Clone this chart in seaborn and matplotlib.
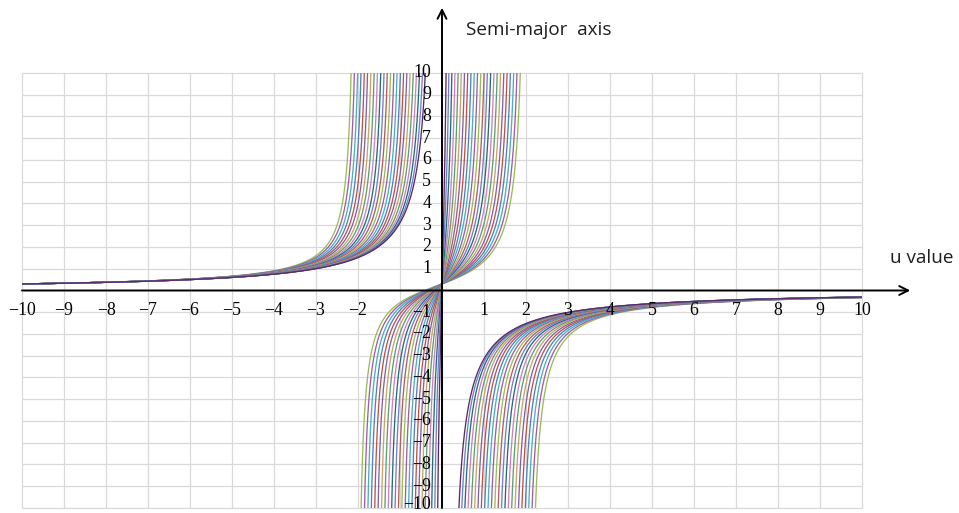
import numpy as np
import pandas as pd
import matplotlib
matplotlib.use("Agg")
import matplotlib.pyplot as plt
import seaborn as sns
from matplotlib.patches import Rectangle

# Half-width of the singular interval of each curve: poles at u = -r and u = +r
pole_offsets = [0.20, 0.28, 0.36, 0.44, 0.52, 0.60, 0.68, 0.76,
                0.84, 0.92, 1.00, 1.08, 1.16, 1.24, 1.32, 1.40,
                1.48, 1.56, 1.64, 1.72, 1.80, 1.88, 1.96, 2.04]
tail_scale = 3.0        # a ~ -tail_scale / u far from the poles
axis_crossing = 0.3     # common value of every curve at u = 0

x_tick_values = [-10, -9, -8, -7, -6, -5, -4, -3, -2, 1, 2, 3, 4, 5, 6, 7, 8, 9, 10]
y_tick_values = [-10, -9, -8, -7, -6, -5, -4, -3, -2, -1, 1, 2, 3, 4, 5, 6, 7, 8, 9, 10]

curve_colors = ["#9BBB59", "#A05FA0", "#4BACC6", "#4F81BD", "#C0504D", "#8064A2",
                "#C9A26B", "#5F9E6E", "#D27FBF", "#276A7C", "#6F7FD0", "#B65D5A"]


def semi_major_axis(u, r):
    b = axis_crossing * r * r / tail_scale
    return tail_scale * (u + b) / (r * r - u * u)


rows = []
for i, r in enumerate(pole_offsets):
    branches = [np.linspace(-10.0, -r - 1e-4, 5000),
                np.linspace(-r + 1e-4, r - 1e-4, 5000),
                np.linspace(r + 1e-4, 10.0, 5000)]
    for j, u in enumerate(branches):
        a = semi_major_axis(u, r)
        keep = np.abs(a) <= 60
        rows.append(pd.DataFrame({"u": u[keep], "a": a[keep],
                                  "curve": i, "branch": j}))
df = pd.concat(rows, ignore_index=True)

# outermost curves drawn first, the darkest curve last (on top)
order = list(range(len(pole_offsets)))[::-1]
palette = {}
for k, c in enumerate(order):
    palette[c] = curve_colors[k % len(curve_colors)]
palette[order[-1]] = "#5B2A63"
df["curve"] = pd.Categorical(df["curve"], categories=order, ordered=True)

sns.set_theme(style="white")
plt.rcParams["font.family"] = ["Liberation Serif", "DejaVu Sans"]

fig = plt.figure(figsize=(9.59, 5.13), dpi=100)
ax = fig.add_axes([0, 0, 1, 1])
ax.set_xlim(-10.524, 12.31)
ax.set_ylim(-10.23, 13.356)
ax.axis("off")

# grid
ax.vlines(range(-10, 11), -10, 10, color="#D9D9D9", lw=0.9, zorder=0)
ax.hlines(range(-10, 11), -10, 10, color="#D9D9D9", lw=0.9, zorder=0)

sns.lineplot(data=df, x="u", y="a", hue="curve", units="branch",
             estimator=None, sort=False, palette=palette, hue_order=order,
             linewidth=0.95, legend=False, ax=ax)

clip = Rectangle((-10, -10), 20, 20, transform=ax.transData)
for line in ax.lines:
    line.set_clip_path(clip)

# axes with arrows
ax.annotate("", xy=(11.15, 0), xytext=(-10, 0),
            arrowprops=dict(arrowstyle="->", lw=1.4, color="black",
                            mutation_scale=16, shrinkA=0, shrinkB=0), zorder=5)
ax.annotate("", xy=(0, 13.0), xytext=(0, -10),
            arrowprops=dict(arrowstyle="->", lw=1.4, color="black",
                            mutation_scale=16, shrinkA=0, shrinkB=0), zorder=5)

for v in x_tick_values:
    lbl = str(v).replace("-", "\u2212")
    ax.text(v, -0.94, lbl, ha="center", va="center", fontsize=12.8,
            color="black", zorder=6)
for v in y_tick_values:
    lbl = str(v).replace("-", "\u2212")
    # the lowest label sits on the bottom edge; keep it inside the canvas
    ypos = v + 0.16 if v == -10 else v
    ax.text(-0.26, ypos, lbl, ha="right", va="center", fontsize=12.8,
            color="black", zorder=6)

ax.text(0.57, 11.98, "Semi-major  axis", ha="left", va="center", fontsize=13.6,
        family=["Open Sans", "DejaVu Sans"], color="#1E1E1E")
ax.text(10.67, 1.49, "u value", ha="left", va="center", fontsize=13.6,
        family=["Open Sans", "DejaVu Sans"], color="#1E1E1E")

fig.savefig("out.png", dpi=100, facecolor="white")
